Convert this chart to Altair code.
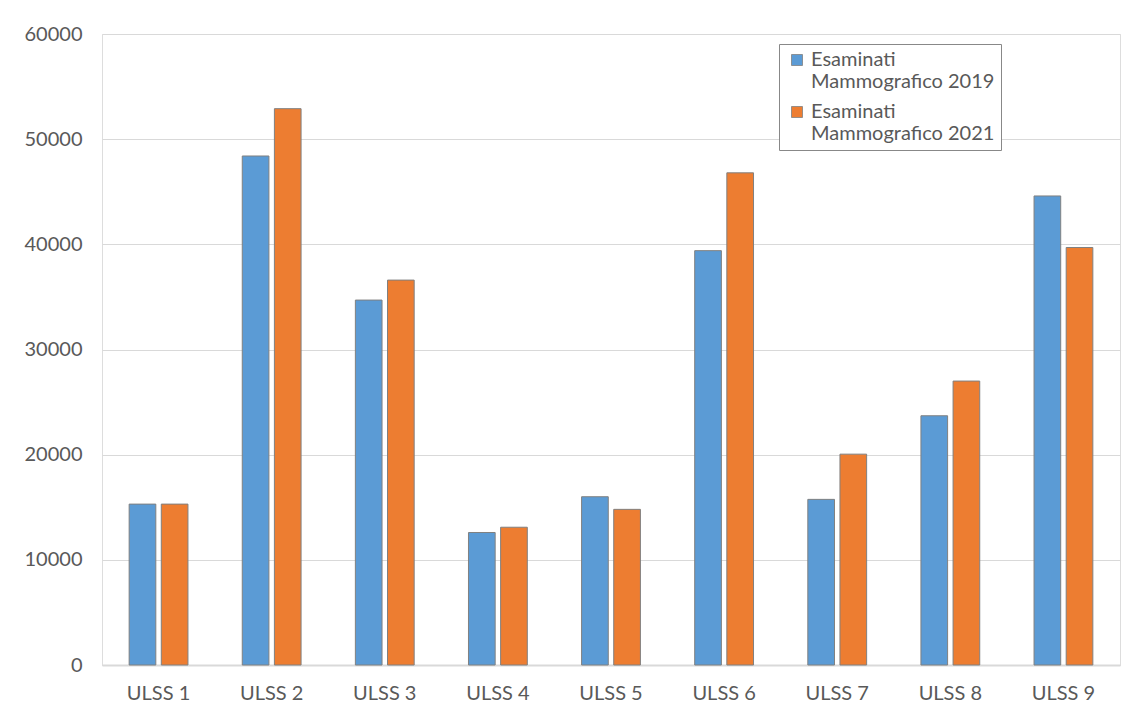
import altair as alt
import pandas as pd

categories = ["ULSS 1", "ULSS 2", "ULSS 3", "ULSS 4", "ULSS 5", "ULSS 6", "ULSS 7", "ULSS 8", "ULSS 9"]
series = ["Esaminati Mammografico 2019", "Esaminati Mammografico 2021"]
values_2019 = [15300, 48400, 34700, 12600, 16000, 39400, 15750, 23700, 44600]
values_2021 = [15300, 52900, 36600, 13100, 14800, 46800, 20050, 27000, 39700]
y_ticks = [0, 10000, 20000, 30000, 40000, 50000, 60000]
colors = ["#5B9BD5", "#ED7D31"]

rows = []
for i, c in enumerate(categories):
    rows.append({"ulss": c, "serie": series[0], "valore": values_2019[i]})
    rows.append({"ulss": c, "serie": series[1], "valore": values_2021[i]})
df = pd.DataFrame(rows)

FONT = "Lato"
TXT = "#595959"

legend = alt.Legend(
    title=None,
    orient="none",
    legendX=677,
    legendY=10,
    direction="vertical",
    labelFont=FONT,
    labelFontSize=20,
    labelColor=TXT,
    labelLimit=400,
    labelExpr="[slice(datum.label, 0, indexof(datum.label, ' ')), slice(datum.label, indexof(datum.label, ' ') + 1) + '\u00a0']",
    labelOffset=4,
    symbolType="square",
    symbolSize=121,
    symbolStrokeWidth=0.8,
    symbolStrokeColor="#808080",
    symbolOffset=2,
    rowPadding=10,
    padding=6,
    strokeColor="#888888",
    fillColor="white",
)

chart = alt.Chart(df).mark_bar(stroke="#808080", strokeWidth=1).encode(
    x=alt.X(
        "ulss:N",
        sort=categories,
        title=None,
        scale=alt.Scale(paddingInner=0.48, paddingOuter=0.24),
        axis=alt.Axis(
            labelAngle=0,
            labelFont=FONT,
            labelFontSize=20,
            labelColor=TXT,
            labelPadding=18,
            ticks=False,
            domainColor="#d9d9d9",
            domainWidth=2,
            grid=False,
        ),
    ),
    xOffset=alt.XOffset("serie:N", sort=series, scale=alt.Scale(paddingInner=0.17, paddingOuter=0)),
    y=alt.Y(
        "valore:Q",
        title=None,
        scale=alt.Scale(domain=[0, 60000], nice=False),
        axis=alt.Axis(
            values=y_ticks,
            format="d",
            labelFont=FONT,
            labelFontSize=20,
            labelColor=TXT,
            labelPadding=20,
            ticks=False,
            domain=False,
            gridColor="#d9d9d9",
            gridWidth=1,
        ),
    ),
    color=alt.Color(
        "serie:N",
        sort=series,
        scale=alt.Scale(domain=series, range=colors),
        legend=legend,
    ),
).properties(
    width=1018,
    height=631,
    autosize=alt.AutoSizeParams(type="none"),
    padding={"left": 94, "top": 26, "right": 12, "bottom": 45},
).configure_view(
    stroke="#868686",
    strokeWidth=1,
).configure(background="white")

chart.save("out.html", embed_options={"renderer": "svg", "actions": False})
